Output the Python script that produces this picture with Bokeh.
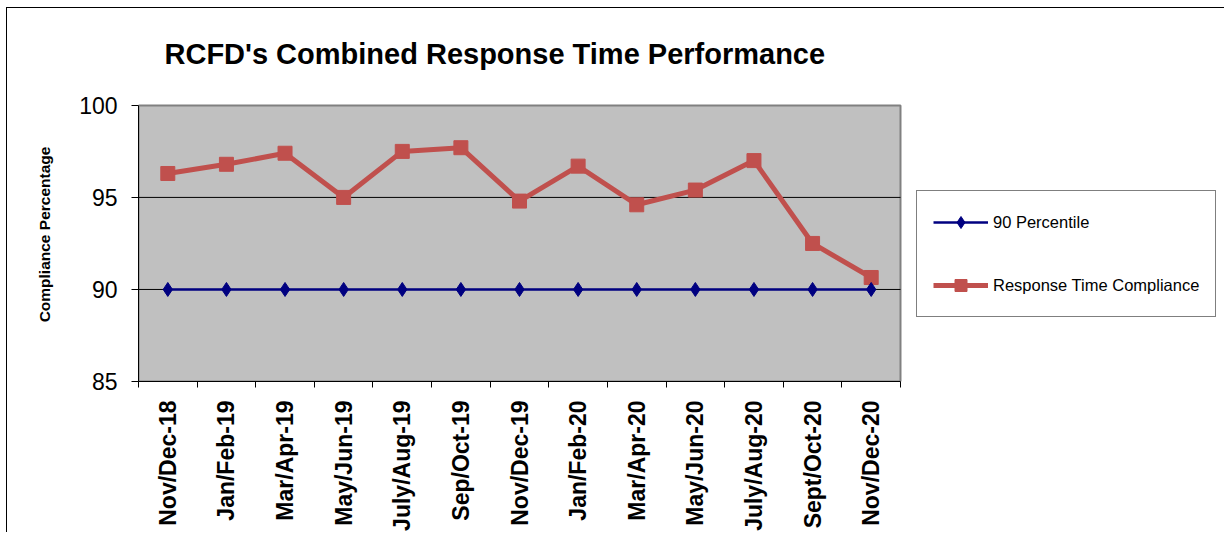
from bokeh.plotting import figure
from bokeh.models import (ColumnDataSource, Range1d, FixedTicker, Legend, LegendItem)
from bokeh.embed import file_html
from bokeh.resources import INLINE
import math

title_text = "RCFD's Combined Response Time Performance"
y_title = "Compliance Percentage"
categories = ["Nov/Dec-18", "Jan/Feb-19", "Mar/Apr-19", "May/Jun-19", "July/Aug-19",
              "Sep/Oct-19", "Nov/Dec-19", "Jan/Feb-20", "Mar/Apr-20", "May/Jun-20",
              "July/Aug-20", "Sept/Oct-20", "Nov/Dec-20"]
percentile_90 = [90, 90, 90, 90, 90, 90, 90, 90, 90, 90, 90, 90, 90]
response_compliance = [96.3, 96.8, 97.4, 95.0, 97.5, 97.7, 94.8, 96.7, 94.6, 95.4, 97.0, 92.5, 90.65]
y_ticks = [85, 90, 95, 100]
grid_values = [90, 95]

FONT = "Liberation Sans"

n = len(categories)
xs = [i + 0.5 for i in range(n)]
src = ColumnDataSource(dict(x=xs, p90=percentile_90, rtc=response_compliance))

# layout (pixels)
W, H = 1218, 525
LEFT, TOP = 131, 97          # plot-area offset inside the canvas
PLOT_W, PLOT_H = 762, 278    # plot-area size
EXTRA_TOP = 18               # frame extends this far above the plot area
BOTTOM = H - TOP - PLOT_H
frame_w = W - LEFT
y_lo, y_hi = min(y_ticks), max(y_ticks)
x_end = n * frame_w / PLOT_W
y_end = y_hi + (y_hi - y_lo) * EXTRA_TOP / PLOT_H

p = figure(width=W, height=H, output_backend="svg", toolbar_location=None,
           x_range=Range1d(0, x_end), y_range=Range1d(y_lo, y_end),
           min_border_left=LEFT, min_border_top=TOP - EXTRA_TOP, min_border_right=0,
           min_border_bottom=BOTTOM)
p.styles = {"margin-left": "6px", "margin-top": "7px",
            "border-left": "1px solid #000000", "border-top": "1px solid #000000"}

p.background_fill_color = "#FFFFFF"
p.border_fill_color = "#FFFFFF"
p.outline_line_color = None

# Title
p.title.text = title_text
p.title.text_font = FONT
p.title.text_font_size = "29px"
p.title.text_font_style = "bold"
p.title.text_color = "#000000"
p.title.align = "left"
p.title.offset = 26
p.title.standoff = 36

# Plot area (gray) with border
p.quad(left=0, right=n, bottom=y_lo, top=y_hi,
       fill_color="#C0C0C0", line_color="#808080", line_width=2)

# Horizontal grid lines
p.segment(x0=[0] * len(grid_values), x1=[n] * len(grid_values), y0=grid_values,
          y1=grid_values, line_color="#000000", line_width=1)

# X axis
xa = p.xaxis[0]
xa.bounds = (0, n)
xa.ticker = FixedTicker(ticks=xs, minor_ticks=list(range(n + 1)))
xa.major_label_overrides = {x: c for x, c in zip(xs, categories)}
xa.major_label_orientation = math.pi / 2
xa.major_label_text_font = FONT
xa.major_label_text_font_size = "23px"
xa.major_label_text_font_style = "bold"
xa.major_label_text_color = "#000000"
xa.major_tick_out = 0
xa.major_tick_in = 0
xa.minor_tick_out = 6
xa.minor_tick_in = 0
xa.minor_tick_line_color = "#000000"
xa.major_label_standoff = 13
xa.axis_line_color = "#000000"

# Y axis
ya = p.yaxis[0]
ya.bounds = (y_lo, y_hi)
ya.ticker = FixedTicker(ticks=y_ticks)
ya.major_label_text_font = FONT
ya.major_label_text_font_size = "23px"
ya.major_label_text_color = "#000000"
ya.major_tick_out = 7
ya.major_tick_in = 0
ya.minor_tick_out = 0
ya.minor_tick_in = 0
ya.major_tick_line_color = "#000000"
ya.axis_line_color = "#000000"
ya.major_label_standoff = 14
ya.axis_label = y_title
ya.axis_label_text_font = FONT
ya.axis_label_text_font_size = "15.5px"
ya.axis_label_text_font_style = "bold"
ya.axis_label_text_color = "#000000"
ya.axis_label_standoff = 23

# Grid
p.xgrid.grid_line_color = None
p.ygrid.grid_line_color = None

# Series
red = "#C0504D"
blue = "#000080"
r_line = p.line("x", "rtc", source=src, line_color=red, line_width=5)
r_mark = p.scatter("x", "rtc", source=src, marker="square", size=14,
                   fill_color=red, line_color=red)
b_line = p.line("x", "p90", source=src, line_color=blue, line_width=2.5)
b_mark = p.scatter("x", "p90", source=src, marker="diamond", size=14,
                   fill_color=blue, line_color=blue)

legend = Legend(items=[LegendItem(label="90 Percentile", renderers=[b_line, b_mark]),
                       LegendItem(label="Response Time Compliance", renderers=[r_line, r_mark])],
                location=(PLOT_W + 16, 64))
legend.label_text_font = FONT
legend.label_text_font_size = "16.5px"
legend.label_text_color = "#000000"
legend.glyph_width = 55
legend.glyph_height = 30
legend.label_height = 30
legend.label_standoff = 5
legend.spacing = 33
legend.padding = 16
legend.margin = 0
legend.border_line_color = "#000000"
legend.border_line_width = 1
legend.background_fill_color = "#FFFFFF"
legend.background_fill_alpha = 1
p.add_layout(legend, "center")

open("out.html", "w").write(file_html(p, INLINE))
